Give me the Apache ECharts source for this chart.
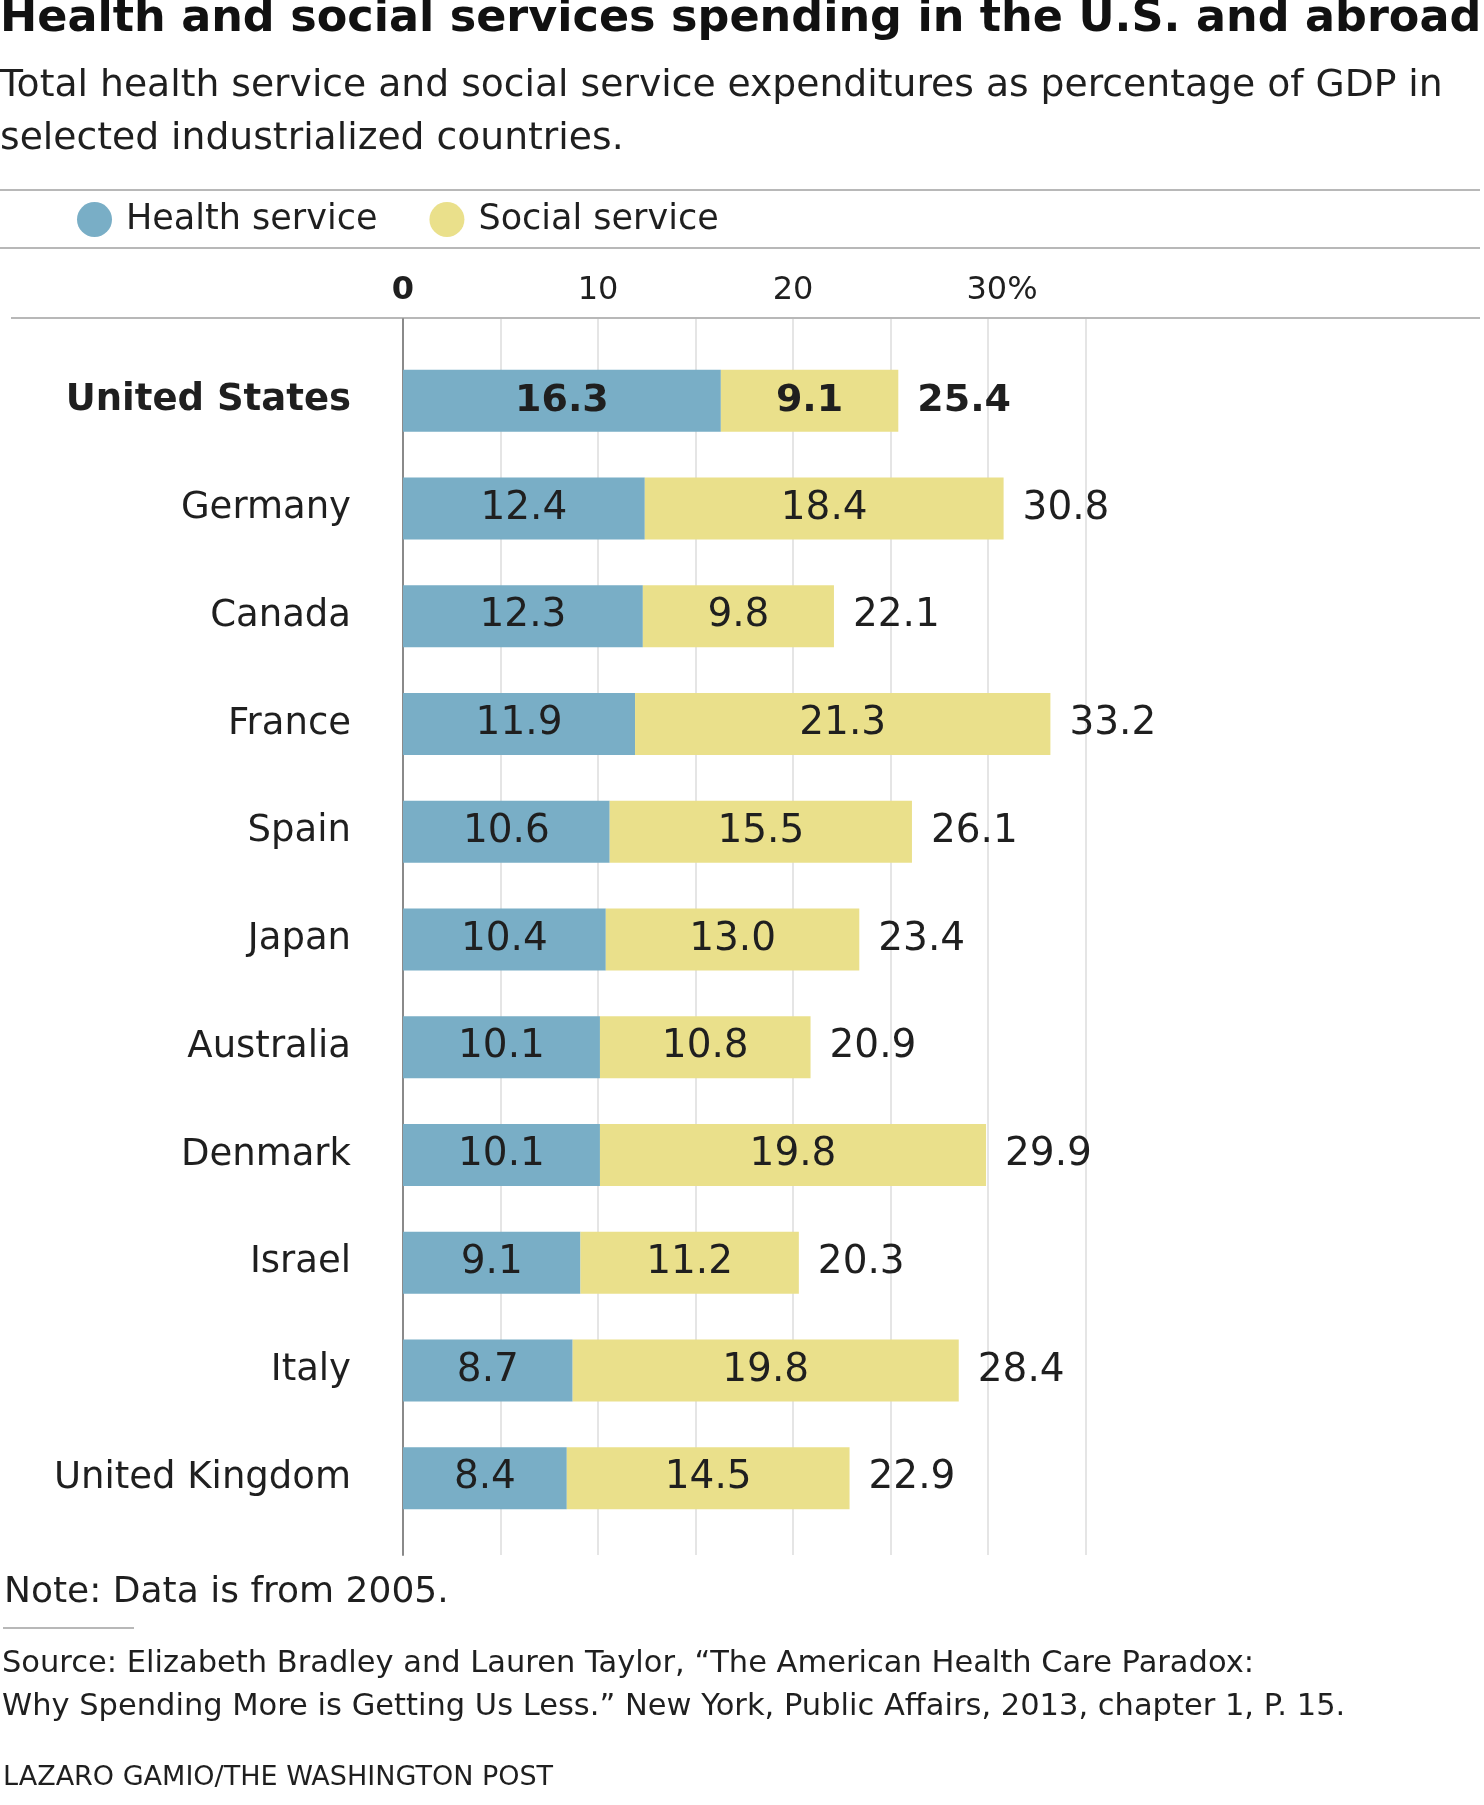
<!DOCTYPE html>
<html>
<head>
<meta charset="utf-8">
<script src="https://cdn.jsdelivr.net/npm/echarts@6/dist/echarts.min.js"></script>
<style>
  html, body { margin: 0; padding: 0; background: #ffffff; }
  #chart { width: 1484px; height: 1805px; }
</style>
</head>
<body>
<div id="chart"></div>
<script>
const countries = ['United States', 'Germany', 'Canada', 'France', 'Spain', 'Japan', 'Australia', 'Denmark', 'Israel', 'Italy', 'United Kingdom'];
const health = [16.3, 12.4, 12.3, 11.9, 10.6, 10.4, 10.1, 10.1, 9.1, 8.7, 8.4];
const social = [9.1, 18.4, 9.8, 21.3, 15.5, 13.0, 10.8, 19.8, 11.2, 19.8, 14.5];
const totals = [25.4, 30.8, 22.1, 33.2, 26.1, 23.4, 20.9, 29.9, 20.3, 28.4, 22.9];
const tickLabels = { 0: '0', 10: '10', 20: '20', 30: '30%' };

const FONT = "'DejaVu Sans', 'Liberation Sans', sans-serif";
const INK = '#1f1f1f';
const BLUE = '#79aec6';
const YELLOW = '#eae08b';
const RULE = '#b8b8b8';

function styled(arr) {
  return arr.map((v, i) => i === 0 ? { value: v, label: { fontWeight: 'bold', fontSize: 38 } } : v);
}

const chart = echarts.init(document.getElementById('chart'), null, { renderer: 'canvas' });

const option = {
  backgroundColor: '#ffffff',
  animation: false,
  title: [
    {
      text: 'Health and social services spending in the U.S. and abroad',
      left: 0, top: -3, padding: 0,
      textStyle: { fontFamily: FONT, fontWeight: 'bold', fontSize: 44.5, lineHeight: 44.5, color: '#111' }
    },
    {
      text: 'Total health service and social service expenditures as percentage of GDP in\nselected industrialized countries.',
      left: 0, top: 60, padding: 0,
      textStyle: { fontFamily: FONT, fontWeight: 'normal', fontSize: 37.7, lineHeight: 53, color: INK }
    },
    {
      text: 'Note: Data is from 2005.',
      left: 4, top: 1575, padding: 0,
      textStyle: { fontFamily: FONT, fontWeight: 'normal', fontSize: 36, lineHeight: 36, color: INK }
    },
    {
      text: 'Source: Elizabeth Bradley and Lauren Taylor, \u201cThe American Health Care Paradox:\nWhy Spending More is Getting Us Less.\u201d New York, Public Affairs, 2013, chapter 1, P. 15.',
      left: 2, top: 1643, padding: 0,
      textStyle: { fontFamily: FONT, fontWeight: 'normal', fontSize: 30.5, lineHeight: 43, color: INK }
    },
    {
      text: 'LAZARO GAMIO/THE WASHINGTON POST',
      left: 3, top: 1764, padding: 0,
      textStyle: { fontFamily: FONT, fontWeight: 'normal', fontSize: 27, lineHeight: 27, color: INK }
    }
  ],
  legend: {
    data: ['Health service', 'Social service'],
    left: 77, top: 202, padding: 0,
    icon: 'circle', itemWidth: 35, itemHeight: 35, itemGap: 52,
    textStyle: { fontFamily: FONT, fontSize: 35, color: INK, padding: [0, 0, 0, 9] }
  },
  graphic: [
    { type: 'line', shape: { x1: 0, y1: 190, x2: 1480, y2: 190 }, style: { stroke: RULE, lineWidth: 2 } },
    { type: 'line', shape: { x1: 0, y1: 248, x2: 1480, y2: 248 }, style: { stroke: RULE, lineWidth: 2 } },
    { type: 'line', shape: { x1: 11, y1: 318, x2: 1480, y2: 318 }, style: { stroke: RULE, lineWidth: 2 } },
    { type: 'line', shape: { x1: 3, y1: 1628, x2: 134, y2: 1628 }, style: { stroke: RULE, lineWidth: 2 } }
  ],
  grid: [
    { left: 403, top: 347, width: 682.5, height: 1185 },
    { left: 403, top: 319, width: 682.5, height: 1236 }
  ],
  xAxis: [
    {
      gridIndex: 0, type: 'value', min: 0, max: 35, interval: 5, show: false
    },
    {
      gridIndex: 1, type: 'value', min: 0, max: 35, interval: 5, position: 'top',
      axisLine: { show: false }, axisTick: { show: false },
      splitLine: { show: true, lineStyle: { color: '#dcdcdc', width: 1.5 } },
      axisLabel: {
        margin: 12,
        fontFamily: FONT, fontSize: 32, lineHeight: 32, color: INK,
        formatter: function (v) {
          if (!(v in tickLabels)) return '';
          if (v === 0) return '{b|0}';
          if (v === 30) return '{p|' + tickLabels[v] + '}';
          return tickLabels[v];
        },
        rich: {
          b: { fontFamily: FONT, fontSize: 32, lineHeight: 32, fontWeight: 'bold', color: INK },
          p: { fontFamily: FONT, fontSize: 32, lineHeight: 32, color: INK, padding: [0, 0, 0, 28] }
        }
      }
    }
  ],
  yAxis: [
    {
      gridIndex: 0, type: 'category', data: countries, inverse: true,
      axisLine: { show: false }, axisTick: { show: false }, splitLine: { show: false },
      axisLabel: {
        margin: 52,
        fontFamily: FONT, fontSize: 37, color: INK,
        formatter: function (v, i) { return i === 0 ? '{b|' + v + '}' : v; },
        rich: { b: { fontFamily: FONT, fontSize: 37, fontWeight: 'bold', color: INK } }
      }
    },
    {
      gridIndex: 1, type: 'value', min: 0, max: 1,
      axisLine: { show: true, lineStyle: { color: '#8a8a8a', width: 2 } },
      axisTick: { show: false }, axisLabel: { show: false }, splitLine: { show: false }
    }
  ],
  series: [
    {
      name: 'Health service', type: 'bar', stack: 'total', xAxisIndex: 0, yAxisIndex: 0,
      barWidth: 62,
      itemStyle: { color: BLUE },
      label: {
        show: true, position: 'inside', fontFamily: FONT, fontSize: 39, color: INK,
        formatter: p => Number(p.value).toFixed(1)
      },
      data: styled(health)
    },
    {
      name: 'Social service', type: 'bar', stack: 'total', xAxisIndex: 0, yAxisIndex: 0,
      barWidth: 62,
      itemStyle: { color: YELLOW },
      label: {
        show: true, position: 'inside', fontFamily: FONT, fontSize: 39, color: INK,
        formatter: p => Number(p.value).toFixed(1)
      },
      data: styled(social)
    },
    {
      name: 'Total', type: 'bar', stack: 'total', xAxisIndex: 0, yAxisIndex: 0,
      barWidth: 62,
      itemStyle: { color: 'rgba(0,0,0,0)' },
      label: {
        show: true, position: 'right', distance: 19, fontFamily: FONT, fontSize: 39, color: INK,
        formatter: p => totals[p.dataIndex].toFixed(1)
      },
      data: countries.map((c, i) => i === 0 ? { value: 0, label: { fontWeight: 'bold', fontSize: 38 } } : 0)
    }
  ]
};

chart.setOption(option);
</script>
</body>
</html>
